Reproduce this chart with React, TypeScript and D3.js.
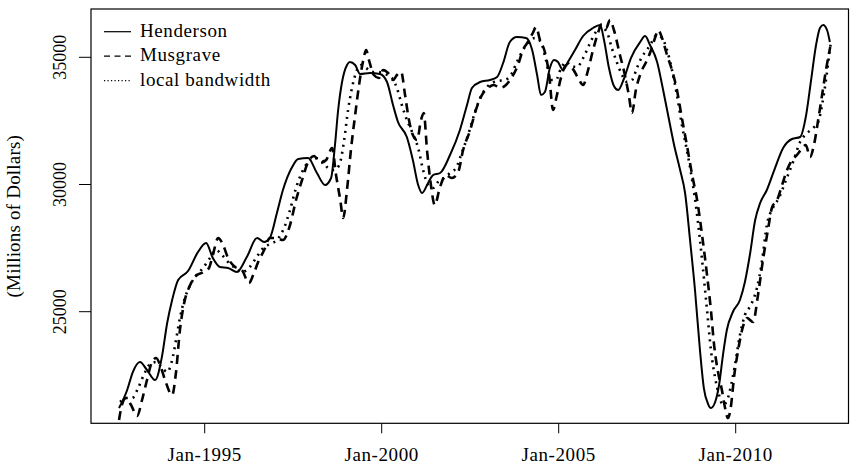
import React from "react";
import * as d3 from "d3";

const xTickYears = [1995, 2000, 2005, 2010];
const xTickLabels = ["Jan-1995", "Jan-2000", "Jan-2005", "Jan-2010"];
const yTicks = [25000, 30000, 35000];
const yLabel = "(Millions of Dollars)";
const legendLabels = ["Henderson", "Musgrave", "local bandwidth"];

const hendersonDates = [1992.58,1992.81,1992.97,1993.17,1993.37,1993.6,1993.79,1993.94,1994.08,1994.25,1994.53,1994.81,1995.04,1995.23,1995.43,1995.66,1995.91,1996.19,1996.48,1996.68,1996.84,1997.04,1997.21,1997.47,1997.64,1997.92,1998.17,1998.4,1998.57,1998.68,1998.77,1998.88,1999.02,1999.1,1999.25,1999.39,1999.67,1999.95,2000.15,2000.32,2000.46,2000.71,2000.88,2001.03,2001.14,2001.31,2001.45,2001.65,2001.93,2002.21,2002.41,2002.55,2002.78,2003.06,2003.26,2003.43,2003.62,2003.82,2004.08,2004.25,2004.39,2004.5,2004.61,2004.75,2004.87,2004.98,2005.12,2005.26,2005.46,2005.69,2005.97,2006.17,2006.28,2006.42,2006.56,2006.68,2006.85,2007.04,2007.3,2007.44,2007.58,2007.78,2007.95,2008.09,2008.26,2008.43,2008.57,2008.71,2008.85,2008.99,2009.1,2009.22,2009.3,2009.42,2009.53,2009.64,2009.75,2009.92,2010.12,2010.26,2010.4,2010.55,2010.69,2010.88,2011.11,2011.34,2011.59,2011.82,2011.99,2012.13,2012.27,2012.38,2012.47,2012.58,2012.66];
const hendersonValues = [21214,21921,22629,23022,22708,22315,23219,24555,25460,26246,26599,27346,27700,27110,26757,26717,26560,27150,27897,27739,27897,28879,29784,30688,31002,31041,30452,29980,30255,31553,32928,34029,34697,34815,34697,34344,34383,34344,34029,33125,32457,31867,30963,29980,29666,30059,30373,30452,31159,32142,33125,33793,34029,34108,34226,34776,35601,35798,35759,35287,34304,33518,33636,34579,34894,34815,34501,34815,35287,35837,36152,36270,35680,34579,33872,33715,34186,34972,35601,35837,35484,34815,33715,32732,31553,30570,29666,27818,25853,23494,22000,21371,21214,21450,22118,23297,24280,24988,25460,26167,27228,28604,29273,29784,30648,31435,31788,31867,32732,34108,35484,36152,36270,36073,35601];

const musgraveDates = [1992.58,1992.66,1992.78,1992.92,1993.09,1993.23,1993.37,1993.51,1993.63,1993.74,1993.88,1994.08,1994.19,1994.3,1994.42,1994.59,1994.78,1994.98,1995.12,1995.23,1995.38,1995.52,1995.66,1995.86,1996.05,1996.25,1996.37,1996.51,1996.68,1996.84,1997.01,1997.21,1997.41,1997.58,1997.75,1997.92,1998.09,1998.26,1998.43,1998.6,1998.71,1998.83,1998.91,1999.02,1999.13,1999.25,1999.36,1999.48,1999.56,1999.64,1999.78,1999.92,2000.04,2000.18,2000.32,2000.43,2000.55,2000.66,2000.77,2000.88,2001.0,2001.11,2001.19,2001.28,2001.39,2001.5,2001.64,2001.81,2001.98,2002.16,2002.3,2002.5,2002.66,2002.83,2003.0,2003.17,2003.34,2003.51,2003.68,2003.85,2003.99,2004.13,2004.27,2004.36,2004.47,2004.61,2004.73,2004.84,2004.95,2005.07,2005.21,2005.38,2005.55,2005.69,2005.83,2005.97,2006.11,2006.22,2006.34,2006.45,2006.56,2006.73,2006.87,2006.98,2007.07,2007.18,2007.33,2007.47,2007.61,2007.72,2007.81,2007.92,2008.06,2008.2,2008.34,2008.48,2008.62,2008.77,2008.91,2009.05,2009.19,2009.3,2009.39,2009.5,2009.61,2009.7,2009.78,2009.87,2009.95,2010.07,2010.18,2010.32,2010.49,2010.63,2010.77,2010.91,2011.03,2011.17,2011.31,2011.45,2011.59,2011.73,2011.84,2011.98,2012.1,2012.21,2012.33,2012.44,2012.55,2012.67];
const musgraveValues = [20742,21331,21607,21331,20899,21528,22314,23022,23179,22904,22314,21725,22629,24280,25341,26049,26442,26560,26717,27228,27896,27621,27110,26756,26638,26127,26442,26953,27424,27896,27896,27818,28407,29390,30176,30884,31120,30844,30962,31434,30373,29390,28682,29783,31355,32731,33911,34893,35286,34893,34304,34186,34500,34382,34107,34304,34422,33518,32535,31945,31749,32535,32810,31355,29980,29193,29862,30373,30255,30491,31355,32142,32928,33518,33793,33911,33793,33911,34225,34697,35286,35601,35955,36191,35680,35208,34304,32928,33518,34225,34697,34579,34186,33911,34500,35286,35955,36309,36151,36466,36073,35090,34304,33518,32810,33714,34422,34815,35286,35758,36073,35758,35090,34500,33714,32613,31552,30373,29390,28014,26442,25066,23690,22629,21921,21214,20820,21331,22393,23493,24280,24751,24594,25656,27031,28211,29115,29390,29980,30569,30962,31159,31355,31552,31080,31552,32535,33518,34500,35404];

const localDates = [1992.61,1992.78,1992.95,1993.12,1993.29,1993.46,1993.63,1993.8,1993.94,1994.08,1994.19,1994.3,1994.44,1994.59,1994.75,1994.95,1995.15,1995.32,1995.49,1995.66,1995.86,1996.05,1996.25,1996.45,1996.65,1996.84,1997.04,1997.24,1997.41,1997.58,1997.75,1997.92,1998.12,1998.31,1998.48,1998.65,1998.8,1998.94,1999.05,1999.16,1999.28,1999.42,1999.56,1999.73,1999.9,2000.09,2000.29,2000.43,2000.57,2000.71,2000.86,2001.03,2001.17,2001.31,2001.45,2001.59,2001.76,2001.93,2002.1,2002.27,2002.44,2002.61,2002.78,2002.95,2003.12,2003.29,2003.48,2003.65,2003.82,2003.99,2004.16,2004.33,2004.5,2004.64,2004.78,2004.92,2005.07,2005.21,2005.35,2005.52,2005.69,2005.86,2006.03,2006.19,2006.36,2006.5,2006.64,2006.79,2006.93,2007.07,2007.21,2007.35,2007.49,2007.63,2007.77,2007.92,2008.06,2008.2,2008.34,2008.48,2008.62,2008.77,2008.91,2009.05,2009.19,2009.3,2009.42,2009.53,2009.64,2009.76,2009.87,2009.98,2010.12,2010.26,2010.43,2010.6,2010.74,2010.88,2011.05,2011.22,2011.42,2011.62,2011.82,2012.02,2012.19,2012.33,2012.44,2012.55,2012.64,2012.69];
const localValues = [21449,21607,21607,22000,22550,22943,23022,22786,22629,23100,23887,24751,25538,26049,26402,26717,27110,27424,27228,26953,26717,26560,26717,27110,27503,27660,27818,28289,28997,29862,30491,30884,31041,30962,30648,30569,30766,31749,32928,33793,34422,34697,34579,34422,34422,34343,34186,33793,33124,32535,32063,31434,30569,29980,29862,30098,30255,30451,30648,31277,31945,32731,33400,33793,33989,34068,34107,34304,34815,35286,35601,35758,35601,34893,34107,34107,34579,34815,34658,34618,34972,35483,35955,36191,35994,35365,34815,34304,34029,34107,34579,35011,35286,35601,35876,35758,35286,34500,33518,32338,31355,30176,28800,27031,25066,23493,22393,21725,21331,21528,22118,22904,24083,24869,25262,25931,26953,28407,29076,29469,30176,30884,31670,32024,32220,32456,33124,34107,35090,35601];

const W = 851;
const H = 466;
const left = 91;
const right = 848.5;
const top = 9;
const bottom = 423.3;
const FONT = "'Liberation Serif', 'DejaVu Serif', serif";

export default function App() {
  const x = d3.scaleLinear().domain([1995, 2010]).range([204.7, 735.7]);
  const y = d3.scaleLinear().domain([25000, 35000]).range([311.7, 57.3]);

  const mk = (dates: number[], vals: number[]) =>
    d3
      .line<number>()
      .x((_, i) => x(dates[i]))
      .y((v) => y(v))
      .curve(d3.curveMonotoneX)(vals) || "";

  const series = [
    { d: mk(hendersonDates, hendersonValues), dash: undefined as string | undefined, w: 2 },
    { d: mk(musgraveDates, musgraveValues), dash: "9 6", w: 2.6 },
    { d: mk(localDates, localValues), dash: "2 5", w: 2.6 },
  ];
  const legendDash = [undefined, "6 4.5", "1.2 2.3"];

  return (
    <svg
      width={W}
      height={H}
      style={{ position: "absolute", left: 0, top: 0, background: "#fff" }}
      fontFamily={FONT}
    >
      <defs>
        <clipPath id="plotclip">
          <rect x={left} y={top} width={right - left} height={bottom - top} />
        </clipPath>
      </defs>
      <g clipPath="url(#plotclip)">
        {series.map((s, i) => (
          <path
            key={i}
            d={s.d}
            fill="none"
            stroke="#000"
            strokeWidth={s.w}
            strokeDasharray={s.dash}
            strokeLinejoin="round"
          />
        ))}
      </g>
      <rect x={left} y={top} width={right - left} height={bottom - top} fill="none" stroke="#000" strokeWidth={1.2} />
      {xTickYears.map((yr, i) => (
        <g key={yr}>
          <line x1={x(yr)} x2={x(yr)} y1={bottom} y2={bottom + 10} stroke="#000" strokeWidth={1} />
          <text x={x(yr)} y={461} textAnchor="middle" fontSize={19} letterSpacing={0.6}>
            {xTickLabels[i]}
          </text>
        </g>
      ))}
      {yTicks.map((v) => (
        <g key={v}>
          <line x1={left - 12} x2={left} y1={y(v)} y2={y(v)} stroke="#000" strokeWidth={1} />
          <text transform={`translate(66,${y(v)}) rotate(-90)`} textAnchor="middle" fontSize={18}>
            {v}
          </text>
        </g>
      ))}
      <text transform={`translate(20,${(top + bottom) / 2}) rotate(-90)`} textAnchor="middle" fontSize={19} letterSpacing={0.2}>
        {yLabel}
      </text>
      {legendLabels.map((lab, i) => (
        <g key={lab}>
          <line
            x1={104}
            x2={131}
            y1={31.7 + i * 24.5}
            y2={31.7 + i * 24.5}
            stroke="#000"
            strokeWidth={1.2}
            strokeDasharray={legendDash[i]}
          />
          <text x={140} y={36.7 + i * 24.5} fontSize={19} letterSpacing={0.6}>
            {lab}
          </text>
        </g>
      ))}
    </svg>
  );
}
